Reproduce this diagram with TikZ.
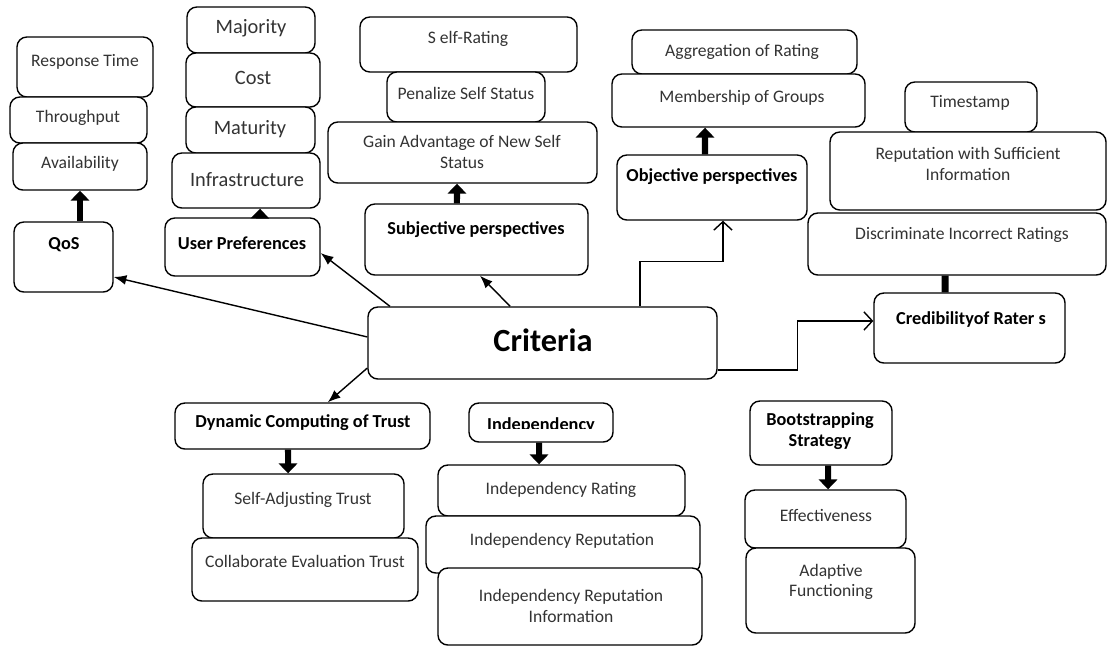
\documentclass[tikz,border=0pt]{standalone}
\usepackage{fontspec}
\setmainfont{Carlito}
\usepackage{tikz}
\usetikzlibrary{arrows.meta, fit}
\tikzset{box/.style={draw, line width=1pt, rounded corners=7pt, fill=white, inner sep=0pt}}
\tikzset{lbl/.style={font=\fontsize{12.5}{14.5}\selectfont, text=black!80, align=center}}
\tikzset{big lbl/.style={font=\fontsize{14.5}{16}\selectfont, text=black!80}}
\tikzset{head/.style={font=\bfseries\fontsize{13}{15}\selectfont, align=center}}
\tikzset{link/.style={line width=1pt, -{Latex[length=9pt, width=7pt]}}}
\tikzset{open link/.style={line width=1pt, -{Straight Barb[length=6pt, width=13pt]}}}
\tikzset{fat/.style={line width=4.3pt, -{Triangle[length=7pt, width=13pt]}}}
\tikzset{bar/.style={line width=5pt}}

\begin{document}
\begin{tikzpicture}[x=0.025cm, y=-0.025cm]
            \path[use as bounding box, fill=white] (0,0) rectangle (1108,647);
            % QoS
            \node[box, fit={(17,37) (153,97)}] (rt) {};
            \node[box, fit={(10,97) (147,143)}] (tp) {};
            \node[box, fit={(13,143) (147,190)}] (av) {};
            \node[box, fit={(14,222) (113,292)}] (qos) {};
            % user preferences
            \node[box, fit={(187,7) (315,53)}] (maj) {};
            \node[box, fit={(186,53) (320,107)}] (cost) {};
            \node[box, fit={(186,107) (315,153)}] (mat) {};
            \node[box, fit={(172,153) (320,208)}] (infra) {};
            \node[box, fit={(165,218) (320,276)}] (up) {};
            % subjective
            \node[box, fit={(360,17) (577,72)}] (sr) {};
            \node[box, fit={(387,72) (545,122)}] (pss) {};
            \node[box, fit={(328,122) (597,183)}] (gain) {};
            \node[box, fit={(365,204) (588,275)}] (subj) {};
            % objective
            \node[box, fit={(632,30) (857,74)}] (agg) {};
            \node[box, fit={(612,74) (865,127)}] (mem) {};
            \node[box, fit={(617,155) (807,220)}] (obj) {};
            % credibility
            \node[box, fit={(905,82) (1037,132)}] (ts) {};
            \node[box, fit={(830,132) (1106,210)}] (rep) {};
            \node[box, fit={(808,213) (1106,275)}] (disc) {};
            \node[box, fit={(874,293) (1065,363)}] (cred) {};
            % centre
            \node[box, fit={(368,307) (717,379)}] (crit) {};
            % lower row
            \node[box, fit={(175,403) (430,449)}] (dyn) {};
            \node[box, fit={(203,474) (404,538)}] (sat) {};
            \node[box, fit={(192,538) (418,601)}] (cet) {};
            \node[box, fit={(469,403) (613,442)}] (ind) {};
            \node[box, fit={(438,465) (685,516)}] (ir) {};
            \node[box, fit={(426,516) (700,573)}] (irep) {};
            \node[box, fit={(438,568) (702,645)}] (iri) {};
            \node[box, fit={(750,401) (892,465)}] (boot) {};
            \node[box, fit={(745,490) (906,548)}] (eff) {};
            \node[box, fit={(746,548) (915,633)}] (af) {};

            \node[lbl] (rt-t) at (85,62) {Response Time};
            \node[lbl] (tp-t) at (78,118) {Throughput};
            \node[lbl] (av-t) at (80,164) {Availability};
            \node[head] (qos-t) at (64,245) {QoS};
            \node[big lbl] (maj-t) at (251,28) {Majority};
            \node[big lbl] (cost-t) at (253,78) {Cost};
            \node[big lbl] (mat-t) at (250,129) {Maturity};
            \node[big lbl] (infra-t) at (247,180) {Infrastructure};
            \node[head] (up-t) at (242,243) {User Preferences};
            \node[lbl] (sr-t) at (468,39) {S elf-Rating};
            \node[lbl] (pss-t) at (466,93) {Penalize Self Status};
            \node[lbl] (gain-t) at (462,152) {Gain Advantage of New Self\\Status};
            \node[head] (subj-t) at (476,230) {Subjective perspectives};
            \node[lbl] (agg-t) at (742,52) {Aggregation of Rating};
            \node[lbl] (mem-t) at (742,98) {Membership of Groups};
            \node[head] (obj-t) at (712,177) {Objective perspectives};
            \node[lbl] (ts-t) at (970,103) {Timestamp};
            \node[lbl] (rep-t) at (968,164) {Reputation with Sufficient\\Information};
            \node[lbl] (disc-t) at (962,235) {Discriminate Incorrect Ratings};
            \node[head] (cred-t) at (971,320) {Credibilityof Rater s};
            \node[font=\bfseries\fontsize{23}{26}\selectfont] (crit-t) at (543,340) {Criteria};
            \node[head] (dyn-t) at (303,423) {Dynamic Computing of Trust};
            \node[lbl] (sat-t) at (303,500) {Self-Adjusting Trust};
            \node[lbl] (cet-t) at (305,561) {Collaborate Evaluation Trust};
            \begin{scope}
                \clip (469,403) rectangle (613,428);
                \node[head, anchor=base] (ind-t) at (541,430) {Independency};
            \end{scope}
            \node[lbl] (ir-t) at (561,490) {Independency Rating};
            \node[lbl] (irep-t) at (562,541) {Independency Reputation};
            \node[lbl] (iri-t) at (571,606) {Independency Reputation\\Information};
            \node[head] (boot-t) at (820,431) {Bootstrapping\\Strategy};
            \node[lbl] (eff-t) at (826,515) {Effectiveness};
            \node[lbl] (af-t) at (831,582) {Adaptive\\Functioning};

            \draw[link] ([yshift=4.3pt]crit.west) -- ([yshift=-14.2pt]qos.east);
            \draw[link] ([xshift=-108.5pt]crit.north) -- ([yshift=-4.3pt]up.east);
            \draw[link] ([xshift=-23pt]crit.north) -- ([xshift=2.5pt]subj.south);
            \draw[link] ([yshift=-17.8pt]crit.west) -- ([xshift=18pt]dyn.north);
            \draw[open link] ([xshift=69.3pt]crit.north) -- ++(0,-45) -| ([xshift=7.8pt]obj.south);
            \draw[open link] ([yshift=-19.2pt]crit.east) -- ++(80,0) |- ([yshift=5pt]cred.west);

            \draw[fat] (qos.north -| av.south) -- (av.south);
            \draw[fat] ([xshift=12.4pt]up.north) -- ([xshift=10pt]infra.south);
            \draw[fat] ([xshift=-13.9pt]subj.north) -- ([xshift=-3.9pt]gain.south);
            \draw[fat] ([xshift=-5pt]obj.north) -- ([xshift=-23.8pt]mem.south);
            \draw[bar] ([xshift=-17.4pt]cred.north) -- ([xshift=-8.5pt]disc.south);
            \draw[fat] ([xshift=-10.3pt]dyn.south) -- ([xshift=-11pt]sat.north);
            \draw[fat] ([xshift=-1.4pt]ind.south) -- ([xshift=-16pt]ir.north);
            \draw[fat] ([xshift=5pt]boot.south) -- ([xshift=1.8pt]eff.north);
        \end{tikzpicture}
\end{document}
